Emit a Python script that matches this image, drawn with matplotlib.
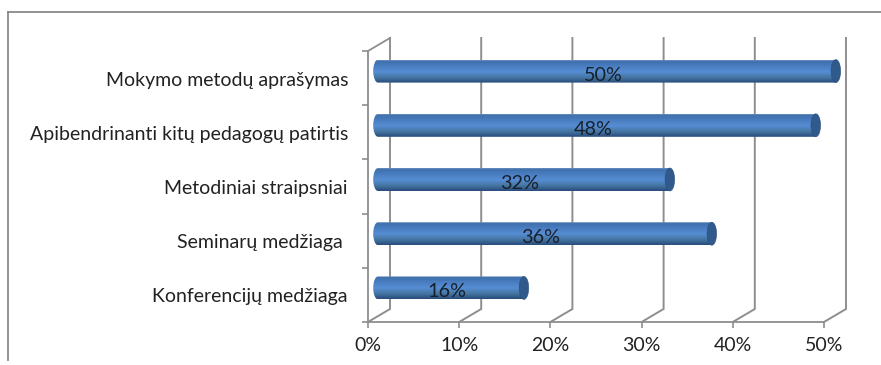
import numpy as np
import matplotlib
matplotlib.use("Agg")
import matplotlib.pyplot as plt
from matplotlib.colors import LinearSegmentedColormap
from matplotlib.lines import Line2D
from matplotlib.patches import Ellipse, PathPatch
from matplotlib.path import Path

categories = ["Mokymo metodų aprašymas", "Apibendrinanti kitų pedagogų patirtis",
              "Metodiniai straipsniai", "Seminarų medžiaga ", "Konferencijų medžiaga"]
values = [50.2, 48.0, 32.0, 36.6, 16.0]
value_labels = ["50%", "48%", "32%", "36%", "16%"]
x_ticks = [0, 10, 20, 30, 40, 50]
x_tick_labels = ["0%", "10%", "20%", "30%", "40%", "50%"]

W, H = 881, 365
plt.rcParams["font.family"] = ["Lato", "DejaVu Sans"]
fig = plt.figure(figsize=(W / 100, H / 100), dpi=100)
L, R, T, B = 368, 824, 51, 322
ax = fig.add_axes([L / W, 1 - B / H, (R - L) / W, (B - T) / H])
ax.set_xlim(0, 50)
ax.set_ylim(0, 5)
ax.patch.set_alpha(0)
for s in ["top", "right"]:
    ax.spines[s].set_visible(False)
for s in ["left", "bottom"]:
    ax.spines[s].set_color("#8e8e8e")
    ax.spines[s].set_linewidth(1.3)

ux = (R - L) / 50.0   # px per % unit
uy = (B - T) / 5.0    # px per category
dx, dy = 22 / ux, 13 / uy   # depth of the 3D wall

GRID = "#8e8e8e"
for t in x_ticks:
    ax.plot([t, t + dx, t + dx], [0, dy, 5 + dy], color=GRID, lw=1.4, clip_on=False, zorder=1,
            solid_joinstyle="miter")
ax.plot([0, dx], [5, 5 + dy], color=GRID, lw=1.3, clip_on=False, zorder=1)

ax.set_xticks(x_ticks)
ax.set_xticklabels(x_tick_labels, fontsize=14, color="#222222")
ax.set_yticks(range(6))
ax.set_yticklabels([])
ax.tick_params(axis="both", length=4, width=1.2, color=GRID)
ax.tick_params(axis="x", pad=7)

cmap = LinearSegmentedColormap.from_list("bar", [
    (0.0, "#6f93c2"), (0.05, "#3f70ad"), (0.3, "#4c80c4"), (0.52, "#568dd3"),
    (0.78, "#44749f"), (0.93, "#30588a"), (1.0, "#2a4c78")])
grad = np.linspace(0, 1, 64).reshape(-1, 1)
ypos = [4.5, 3.5, 2.5, 1.5, 0.5]
bar_h = 23 / uy
cap = 4.8 / ux       # half width of end ellipses
x_shift = 10 / ux
y_shift = 7 / uy

for cat, v, lab, y in zip(categories, values, value_labels, ypos):
    yc = y + y_shift
    x0 = x_shift
    x1 = v + x_shift
    ytop, ybot = yc + bar_h / 2, yc - bar_h / 2
    k = 0.5523
    verts = [(x1, ytop), (x0, ytop),
             (x0 - cap * k, ytop), (x0 - cap, yc + bar_h / 2 * k), (x0 - cap, yc),
             (x0 - cap, yc - bar_h / 2 * k), (x0 - cap * k, ybot), (x0, ybot),
             (x1, ybot), (x1, ytop)]
    codes = [Path.MOVETO, Path.LINETO, Path.CURVE4, Path.CURVE4, Path.CURVE4,
             Path.CURVE4, Path.CURVE4, Path.CURVE4, Path.LINETO, Path.CLOSEPOLY]
    clip = PathPatch(Path(verts, codes), transform=ax.transData, fc="none", ec="none")
    ax.add_patch(clip)
    clip.set_clip_on(False)
    im = ax.imshow(grad, cmap=cmap, aspect="auto", extent=[x0 - cap, x1, ybot, ytop],
                   origin="upper", zorder=3, interpolation="bilinear")
    im.set_clip_path(clip)
    im.set_clip_box(fig.bbox)
    ax.add_patch(Ellipse((x1, yc), 2 * cap, bar_h, fc="#30598c", ec="#2b5080", lw=0.4,
                         zorder=4, clip_on=False))
    ax.text(v / 2 + x_shift - 4 / ux, yc - 4 / uy, lab, ha="center", va="center",
            fontsize=14.3, color="#17202c", zorder=5)
    ax.text(-20 / ux, y - 2 / uy, cat, ha="right", va="center", fontsize=14, color="#222222",
            clip_on=False)

ax.set_xlim(0, 50)
ax.set_ylim(0, 5)

# outer frame (cropped chart border)
frame = dict(color="#8a8a8a", lw=1.3, transform=fig.transFigure)
fig.add_artist(Line2D([7.5 / W, 7.5 / W], [1 - 360 / H, 1 - 12 / H], **frame))
fig.add_artist(Line2D([7.5 / W, 1.0], [1 - 12 / H, 1 - 12 / H], **frame))

fig.savefig("out.png", dpi=100)
